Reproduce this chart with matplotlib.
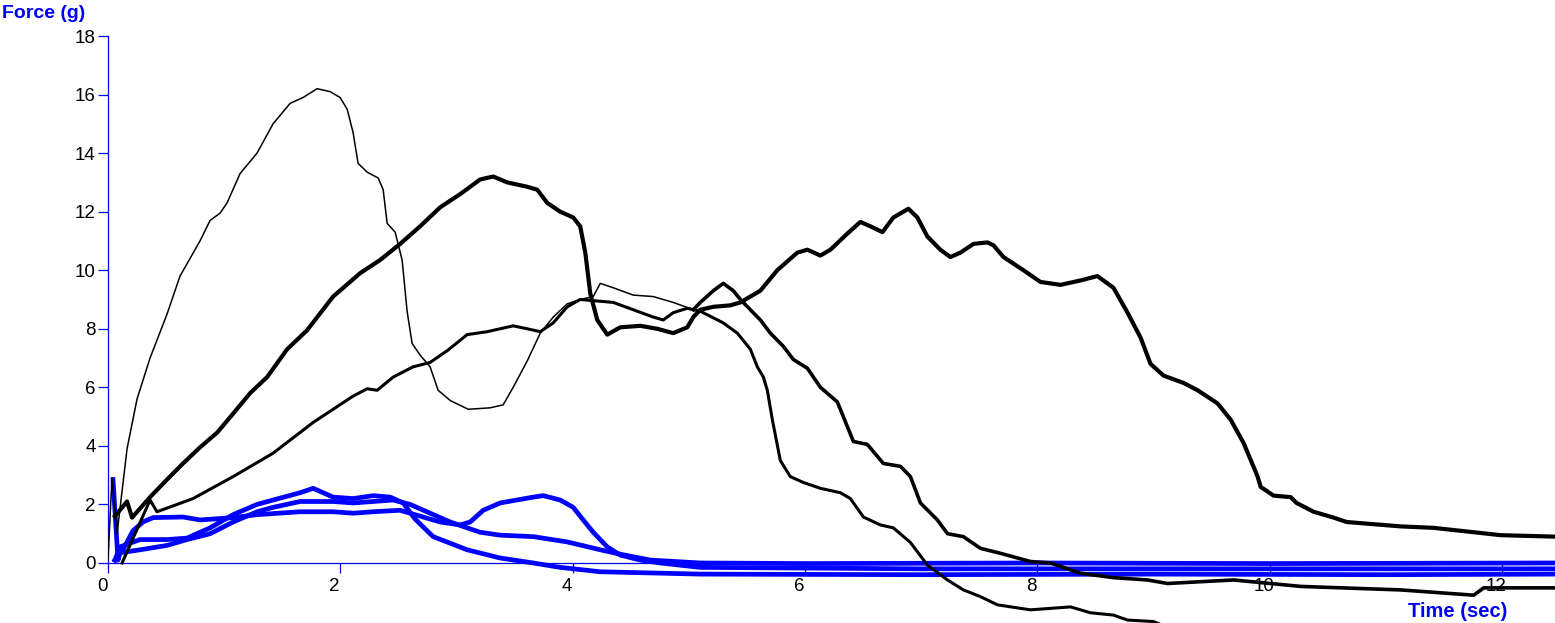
import matplotlib
matplotlib.use("Agg")
import matplotlib.pyplot as plt
from matplotlib.transforms import ScaledTranslation

plt.rcParams['font.family'] = ['Liberation Sans', 'DejaVu Sans']

BLUE = '#0000FF'

# black traces (time in s, force in g)
a_t = [0.0, 0.034, 0.078, 0.164, 0.250, 0.362, 0.508, 0.620, 0.792, 0.879,
       0.965, 1.025, 1.137, 1.283, 1.421, 1.568, 1.680, 1.800, 1.912, 1.998,
       2.059, 2.110, 2.153, 2.231, 2.326, 2.369, 2.403, 2.472, 2.532, 2.575,
       2.618, 2.687, 2.773, 2.842, 2.946, 3.101, 3.290, 3.402, 3.488, 3.609,
       3.721, 3.833, 3.953, 4.065, 4.177, 4.238, 4.350, 4.522, 4.694, 4.866,
       5.039, 5.099, 5.211, 5.297, 5.383, 5.444, 5.616, 5.702, 5.814, 5.900,
       6.021, 6.133, 6.279, 6.417, 6.537, 6.675, 6.822, 6.908, 6.994, 7.140,
       7.227, 7.364, 7.511, 7.683, 7.941, 8.114, 8.372, 8.656, 8.949, 9.121,
       9.690, 10.267, 11.128, 11.757, 11.843, 12.457]
a_f = [0.1, 2.9, 1.0, 3.9, 5.6, 7.0, 8.5, 9.8, 11.0, 11.7,
       11.95, 12.3, 13.3, 14.0, 15.0, 15.7, 15.9, 16.2, 16.1, 15.9,
       15.5, 14.7, 13.65, 13.35, 13.15, 12.75, 11.6, 11.3, 10.35, 8.6,
       7.5, 7.1, 6.7, 5.9, 5.55, 5.25, 5.3, 5.4, 6.0, 6.9,
       7.85, 8.4, 8.85, 9.0, 9.1, 9.55, 9.4, 9.15, 9.1, 8.9,
       8.65, 8.9, 9.3, 9.55, 9.3, 9.0, 8.3, 7.85, 7.4, 6.95,
       6.65, 6.0, 5.5, 4.15, 4.05, 3.4, 3.3, 2.95, 2.05, 1.47,
       1.0, 0.9, 0.5, 0.33, 0.05, 0.0, -0.35, -0.5, -0.58, -0.7,
       -0.58, -0.8, -0.92, -1.1, -0.85, -0.85]

b_t = [0.060, 0.164, 0.207, 0.362, 0.508, 0.646, 0.792, 0.939, 1.077, 1.223,
       1.370, 1.542, 1.714, 1.938, 2.171, 2.343, 2.515, 2.687, 2.860, 3.032,
       3.204, 3.316, 3.437, 3.609, 3.695, 3.781, 3.893, 4.005, 4.065, 4.109,
       4.152, 4.212, 4.298, 4.410, 4.582, 4.729, 4.866, 4.987, 5.039, 5.099,
       5.211, 5.357, 5.444, 5.616, 5.762, 5.934, 6.021, 6.133, 6.219, 6.365,
       6.477, 6.563, 6.667, 6.761, 6.891, 6.968, 7.054, 7.166, 7.252, 7.338,
       7.451, 7.571, 7.623, 7.709, 7.881, 8.027, 8.200, 8.372, 8.518, 8.656,
       8.777, 8.889, 8.975, 9.087, 9.259, 9.380, 9.552, 9.664, 9.776, 9.897,
       9.923, 10.034, 10.181, 10.232, 10.379, 10.551, 10.663, 11.128, 11.412, 11.989,
       12.457]
b_f = [1.6, 2.1, 1.55, 2.25, 2.85, 3.4, 3.95, 4.45, 5.1, 5.8,
       6.35, 7.3, 7.95, 9.1, 9.9, 10.35, 10.9, 11.5, 12.15, 12.6,
       13.1, 13.2, 13.0, 12.85, 12.75, 12.3, 12.0, 11.8, 11.5, 10.6,
       9.2, 8.3, 7.8, 8.05, 8.1, 8.0, 7.85, 8.05, 8.4, 8.65,
       8.75, 8.8, 8.9, 9.3, 10.0, 10.6, 10.7, 10.5, 10.7, 11.25,
       11.65, 11.5, 11.3, 11.8, 12.1, 11.8, 11.15, 10.7, 10.45, 10.6,
       10.9, 10.95, 10.85, 10.45, 10.0, 9.6, 9.5, 9.65, 9.8, 9.4,
       8.55, 7.7, 6.8, 6.4, 6.15, 5.9, 5.45, 4.9, 4.1, 2.95,
       2.6, 2.3, 2.25, 2.05, 1.75, 1.55, 1.4, 1.25, 1.2, 0.95,
       0.9]

c_t = [0.121, 0.362, 0.422, 0.732, 1.077, 1.421, 1.766, 2.110, 2.231, 2.317,
       2.455, 2.627, 2.773, 2.920, 3.092, 3.264, 3.488, 3.609, 3.721, 3.833,
       3.953, 4.065, 4.350, 4.522, 4.694, 4.780, 4.866, 4.987, 5.099, 5.297,
       5.418, 5.530, 5.590, 5.642, 5.676, 5.719, 5.788, 5.874, 5.986, 6.133,
       6.305, 6.391, 6.503, 6.649, 6.761, 6.908, 7.054, 7.227, 7.364, 7.511,
       7.657, 7.941, 8.286, 8.458, 8.656, 8.777, 9.001, 9.06]
c_f = [0.0, 2.15, 1.75, 2.2, 2.95, 3.75, 4.8, 5.7, 5.95, 5.9,
       6.35, 6.7, 6.85, 7.25, 7.8, 7.9, 8.1, 8.0, 7.9, 8.2,
       8.75, 9.0, 8.9, 8.65, 8.4, 8.3, 8.55, 8.7, 8.6, 8.2,
       7.85, 7.3, 6.7, 6.35, 5.9, 4.9, 3.5, 2.95, 2.75, 2.55,
       2.4, 2.2, 1.57, 1.3, 1.2, 0.7, -0.07, -0.58, -0.92, -1.15,
       -1.43, -1.6, -1.5, -1.7, -1.78, -1.95, -2.0, -2.1]

# blue traces
u_t = [0.06, 0.103, 0.276, 0.508, 0.680, 0.879, 1.077, 1.283, 1.421, 1.654,
       1.766, 1.938, 2.110, 2.283, 2.429, 2.541, 2.644, 2.799, 3.092, 3.376,
       3.661, 3.893, 4.238, 5.099, 7.0, 9.0, 11.0, 12.457]
u_f = [0.1, 0.55, 0.8, 0.8, 0.85, 1.2, 1.65, 2.0, 2.15, 2.4,
       2.55, 2.25, 2.2, 2.3, 2.25, 2.05, 1.5, 0.9, 0.45, 0.17,
       0.0, -0.15, -0.3, -0.38, -0.4, -0.38, -0.4, -0.38]

v_t = [0.043, 0.086, 0.103, 0.276, 0.508, 0.680, 0.879, 1.077, 1.283, 1.421,
       1.654, 1.938, 2.110, 2.283, 2.455, 2.601, 2.773, 2.946, 3.092, 3.204,
       3.376, 3.661, 3.953, 4.238, 4.410, 4.668, 5.099, 6.0, 8.0, 10.0, 12.457]
v_f = [2.85, 0.1, 0.35, 0.45, 0.6, 0.8, 1.0, 1.4, 1.75, 1.9,
       2.1, 2.1, 2.05, 2.1, 2.15, 2.0, 1.7, 1.4, 1.2, 1.05,
       0.95, 0.9, 0.72, 0.45, 0.3, 0.1, 0.0, -0.02, 0.0, -0.02, 0.0]

w_t = [0.06, 0.129, 0.215, 0.301, 0.388, 0.646, 0.792, 0.904, 1.077, 1.283,
       1.654, 1.938, 2.110, 2.283, 2.515, 2.687, 2.860, 3.032, 3.118, 3.230,
       3.376, 3.661, 3.747, 3.893, 4.005, 4.091, 4.177, 4.298, 4.410, 4.582,
       4.755, 5.099, 7.0, 9.0, 12.457]
w_f = [0.1, 0.45, 1.1, 1.4, 1.55, 1.57, 1.47, 1.5, 1.55, 1.65,
       1.75, 1.75, 1.7, 1.75, 1.8, 1.6, 1.4, 1.3, 1.4, 1.8,
       2.05, 2.25, 2.3, 2.15, 1.9, 1.47, 1.05, 0.55, 0.27, 0.1,
       0.0, -0.15, -0.2, -0.2, -0.2]

fig = plt.figure(figsize=(15.55, 6.23), dpi=100)
ax = fig.add_axes([108/1555, 0, 1 - 108/1555, (623 - 36)/623])

for t, f in [(u_t, u_f), (v_t, v_f), (w_t, w_f)]:
    ax.plot(t, f, color=BLUE, lw=3.4, zorder=3)

ax.plot(a_t[:51], a_f[:51], color='black', lw=1.1, zorder=4)
ax.plot(a_t[50:], a_f[50:], color='black', lw=2.6, zorder=4)
ax.plot(b_t, b_f, color='black', lw=3.0, zorder=4)
ax.plot(c_t, c_f, color='black', lw=2.2, zorder=4)

ax.set_xlim(0, 12.457)
ax.set_ylim(-2.05, 18)
ax.set_xticks(range(0, 13, 2))
ax.set_yticks(range(0, 19, 2))

for s in ['top', 'right']:
    ax.spines[s].set_visible(False)
ax.spines['left'].set_color(BLUE)
ax.spines['left'].set_linewidth(0.9)
ax.spines['left'].set_bounds(0, 18)
ax.spines['bottom'].set_color(BLUE)
ax.spines['bottom'].set_linewidth(0.9)
ax.spines['bottom'].set_position(('data', 0))

ax.tick_params(axis='both', colors=BLUE, labelcolor='black', length=7.5,
               width=0.9, direction='out', labelsize=13.5)
ax.tick_params(axis='y', pad=1.5)
ax.tick_params(axis='x', pad=3.5)

# x labels sit a little left of their ticks in the original
shift = ScaledTranslation(-6/100, 0, fig.dpi_scale_trans)
for lab in ax.get_xticklabels():
    lab.set_transform(lab.get_transform() + shift)

fig.text(2/1555, 1 - 17.5/623, 'Force (g)', color=BLUE, fontsize=14,
         fontweight='bold', ha='left', va='baseline')
fig.text(1507/1555, 6/623, 'Time (sec)', color=BLUE, fontsize=14.5,
         fontweight='bold', ha='right', va='baseline')

fig.savefig('out.png', dpi=100)
